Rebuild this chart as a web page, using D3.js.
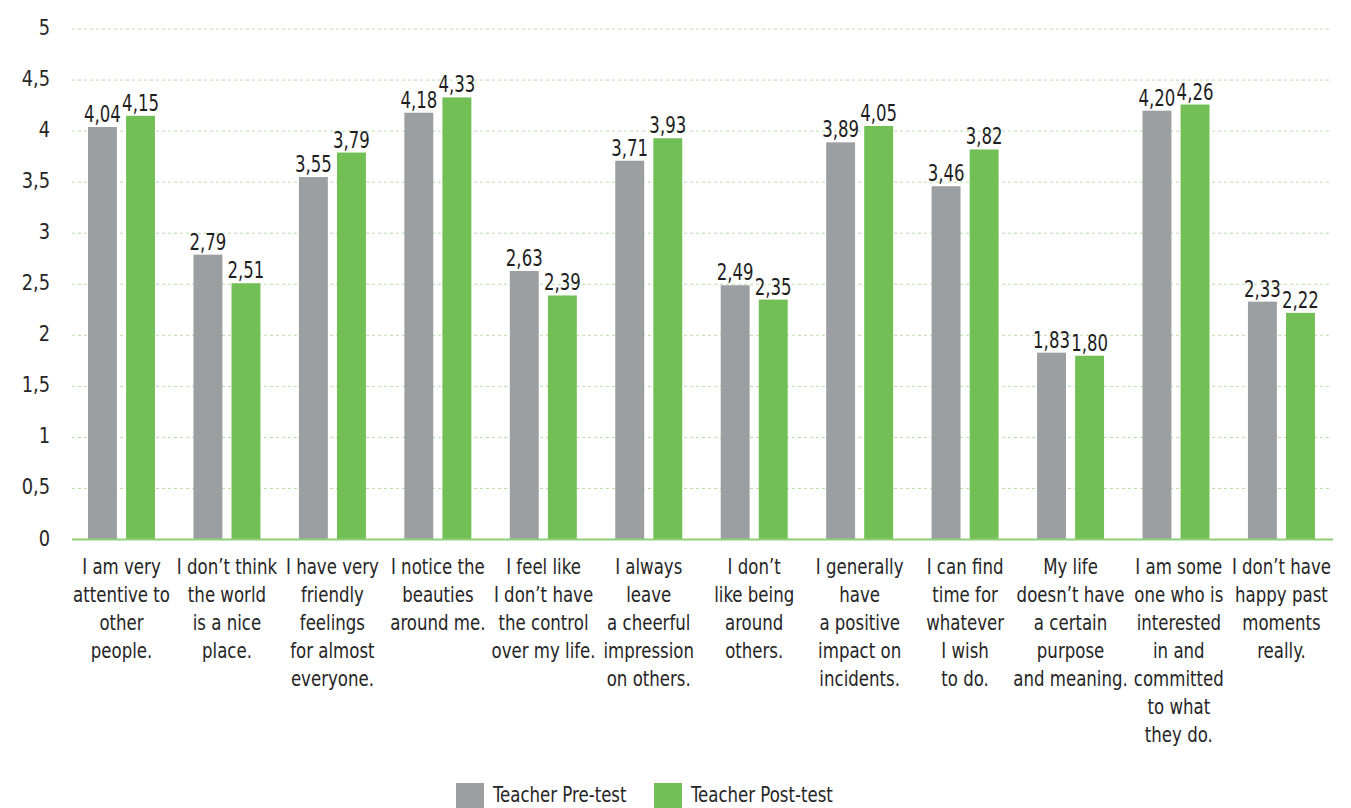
<!DOCTYPE html>
<meta charset="utf-8">
<script src="https://cdn.jsdelivr.net/npm/d3@7"></script>
<style>
  body { margin: 0; background: #fff; }
  svg text { font-family: "DejaVu Sans Condensed", "DejaVu Sans", sans-serif; fill: #262626; }
</style>
<div id="chart"></div>
<script>
// chart data
var categories = [
  ["I am very", "attentive to", "other", "people."],
  ["I don\u2019t think", "the world", "is a nice", "place."],
  ["I have very", "friendly", "feelings", "for almost", "everyone."],
  ["I notice the", "beauties", "around me."],
  ["I feel like", "I don\u2019t have", "the control", "over my life."],
  ["I always", "leave", "a cheerful", "impression", "on others."],
  ["I don\u2019t", "like being", "around", "others."],
  ["I generally", "have", "a positive", "impact on", "incidents."],
  ["I can find", "time for", "whatever", "I wish", "to do."],
  ["My life", "doesn\u2019t have", "a certain", "purpose", "and meaning."],
  ["I am some", "one who is", "interested", "in and", "committed", "to what", "they do."],
  ["I don\u2019t have", "happy past", "moments", "really."]
];
var preTest  = [4.04, 2.79, 3.55, 4.18, 2.63, 3.71, 2.49, 3.89, 3.46, 1.83, 4.20, 2.33];
var postTest = [4.15, 2.51, 3.79, 4.33, 2.39, 3.93, 2.35, 4.05, 3.82, 1.80, 4.26, 2.22];
var seriesNames = ["Teacher Pre-test", "Teacher Post-test"];
var yTicks = [0, 0.5, 1, 1.5, 2, 2.5, 3, 3.5, 4, 4.5, 5];

var W = 1351, H = 808;
var colors = ["#9b9fa2", "#72bf55"];
var fmt = function(v) { return d3.format(".2f")(v).replace(".", ","); };
var fmtTick = function(v) { return String(v).replace(".", ","); };
var narrow = 0.9; // horizontal squeeze for label text

var svg = d3.select("#chart").append("svg")
  .attr("width", W).attr("height", H);

var idx = d3.range(categories.length);
var x = d3.scaleBand().domain(idx).range([72, 72 + 12 * 105.45]);
var y = d3.scaleLinear().domain([0, 5]).range([539.5, 29]);

// series offset inside a band
var xSub = d3.scaleBand().domain([0, 1]).range([16, 83]).paddingInner(0.24);

// gridlines
svg.append("g").selectAll("line")
  .data(yTicks.filter(function(d) { return d > 0; }))
  .enter().append("line")
  .attr("x1", 72).attr("x2", 1330)
  .attr("y1", function(d) { return y(d); })
  .attr("y2", function(d) { return y(d); })
  .attr("stroke", "#b9dfa6")
  .attr("stroke-width", 1)
  .attr("stroke-dasharray", "3,3");

// y axis labels
var yAxis = svg.append("g")
  .attr("transform", "translate(50,0)")
  .call(d3.axisLeft(y).tickValues(yTicks).tickSize(0).tickPadding(0).tickFormat(fmtTick));
yAxis.select(".domain").remove();
yAxis.selectAll("text")
  .attr("font-size", "22px")
  .attr("dy", "0.25em")
  .attr("transform", "scale(" + narrow + ",1)");

// bars
var groups = svg.append("g").selectAll("g")
  .data(idx).enter().append("g")
  .attr("transform", function(i) { return "translate(" + x(i) + ",0)"; });

groups.selectAll("rect")
  .data(function(i) { return [{s: 0, v: preTest[i]}, {s: 1, v: postTest[i]}]; })
  .enter().append("rect")
  .attr("x", function(d) { return xSub(d.s); })
  .attr("width", xSub.bandwidth())
  .attr("y", function(d) { return y(d.v); })
  .attr("height", function(d) { return y(0) - y(d.v); })
  .attr("fill", function(d) { return colors[d.s]; });

// value labels, narrowed to mimic the condensed face
groups.selectAll("text.val")
  .data(function(i) { return [{s: 0, v: preTest[i]}, {s: 1, v: postTest[i]}]; })
  .enter().append("text")
  .attr("class", "val")
  .attr("transform", function(d) {
    return "translate(" + (xSub(d.s) + xSub.bandwidth() / 2) + "," + (y(d.v) - 5) + ") scale(0.8,1)";
  })
  .attr("text-anchor", "middle")
  .attr("font-size", "23px")
  .style("fill", "#1e1e1e")
  .text(function(d) { return fmt(d.v); });

// x axis line
svg.append("line")
  .attr("x1", 72).attr("x2", 1333)
  .attr("y1", y(0)).attr("y2", y(0))
  .attr("stroke", "#8fcf78").attr("stroke-width", 2);

// category labels
var labels = svg.append("g").selectAll("text")
  .data(idx).enter().append("text")
  .attr("text-anchor", "middle")
  .attr("font-size", "20.5px");
labels.selectAll("tspan")
  .data(function(i) { return categories[i]; })
  .enter().append("tspan")
  .attr("x", 0)
  .attr("y", function(d, j) { return j * 28; })
  .text(function(d) { return d; });

// centre under bars, pushing right when touching the previous label
var prevRight = -Infinity;
labels.each(function(i) {
  var w = this.getBBox().width * narrow;
  var cx = x(i) + 49.5;
  if (cx - w / 2 < prevRight + 6) cx = prevRight + 6 + w / 2;
  d3.select(this).attr("transform", "translate(" + cx + ",574) scale(" + narrow + ",1)");
  prevRight = cx + w / 2;
});

// legend
var legendX = [456, 654];
var legend = svg.append("g").selectAll("g")
  .data(seriesNames).enter().append("g")
  .attr("transform", function(d, i) { return "translate(" + legendX[i] + ",783)"; });
legend.append("rect")
  .attr("width", 28).attr("height", 25)
  .attr("fill", function(d, i) { return colors[i]; });
legend.append("text")
  .attr("transform", "translate(37,19) scale(" + narrow + ",1)")
  .attr("font-size", "20.5px")
  .text(function(d) { return d; });
</script>
